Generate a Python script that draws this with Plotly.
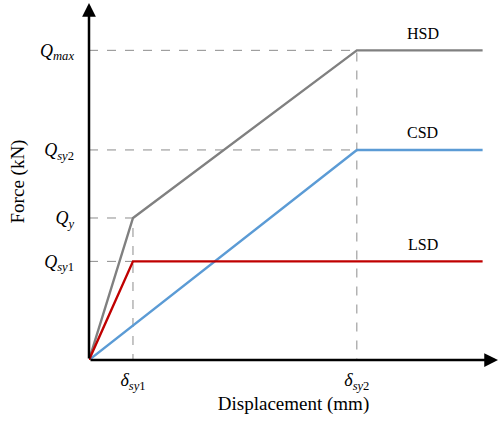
import plotly.graph_objects as go

# Key displacements (arbitrary units) and forces (arbitrary units)
d_sy1 = 1.0
d_sy2 = 6.09
d_end = 8.95
x_axis_max = 9.30

Q_sy1 = 1.0
Q_y = 1.44
Q_sy2 = 2.13
Q_max = 3.14
y_axis_max = 3.62

hsd_x = [0, d_sy1, d_sy2, d_end]
hsd_y = [0, Q_y, Q_max, Q_max]
csd_x = [0, d_sy2, d_end]
csd_y = [0, Q_sy2, Q_sy2]
lsd_x = [0, d_sy1, d_end]
lsd_y = [0, Q_sy1, Q_sy1]

ytick_vals = [Q_sy1, Q_y, Q_sy2, Q_max]
ytick_text = ["<i>Q</i><sub><i>sy</i>1</sub>", "<i>Q</i><sub><i>y</i></sub>",
              "<i>Q</i><sub><i>sy</i>2</sub>", "<i>Q</i><sub><i>max</i></sub>"]
xtick_vals = [d_sy1, d_sy2]
xtick_text = ["<i>δ</i><sub><i>sy</i>1</sub>", "<i>δ</i><sub><i>sy</i>2</sub>"]

series_names = ["HSD", "CSD", "LSD"]
series_colors = ["#808080", "#5B9BD5", "#C00000"]

FONT = "Liberation Serif, Times New Roman, serif"

fig = go.Figure()

# dashed guide lines
guide = dict(color="#8C8C8C", width=1, dash="dash")
fig.add_trace(go.Scatter(x=[0, d_sy2, d_sy2], y=[Q_max, Q_max, 0], mode="lines",
                         line=guide, hoverinfo="skip", showlegend=False))
fig.add_trace(go.Scatter(x=[0, d_sy2], y=[Q_sy2, Q_sy2], mode="lines",
                         line=guide, hoverinfo="skip", showlegend=False))
fig.add_trace(go.Scatter(x=[0, d_sy1, d_sy1], y=[Q_y, Q_y, 0], mode="lines",
                         line=guide, hoverinfo="skip", showlegend=False))
fig.add_trace(go.Scatter(x=[0, d_sy1], y=[Q_sy1, Q_sy1], mode="lines",
                         line=guide, hoverinfo="skip", showlegend=False))

for name, xs, ys, col in zip(series_names, [hsd_x, csd_x, lsd_x], [hsd_y, csd_y, lsd_y], series_colors):
    fig.add_trace(go.Scatter(x=xs, y=ys, mode="lines", name=name,
                             line=dict(color=col, width=2.4), showlegend=False))
    fig.add_annotation(x=(d_sy2 + d_end) / 2 + 0.07, y=ys[-1], text=name, showarrow=False,
                       yshift=17, font=dict(family=FONT, size=16, color="black"))

# axes with arrows
fig.add_annotation(x=x_axis_max, y=0, ax=0, ay=0, xref="x", yref="y", axref="x", ayref="y",
                   showarrow=True, arrowhead=2, arrowsize=1.1, arrowwidth=2.5, arrowcolor="black", text="")
fig.add_annotation(x=0, y=y_axis_max, ax=0, ay=0, xref="x", yref="y", axref="x", ayref="y",
                   showarrow=True, arrowhead=2, arrowsize=1.1, arrowwidth=2.5, arrowcolor="black", text="")

fig.update_layout(
    width=502, height=421,
    margin=dict(l=89, r=4, t=3, b=61),
    paper_bgcolor="white", plot_bgcolor="white",
    font=dict(family=FONT, size=16, color="black"),
    xaxis=dict(range=[0, x_axis_max], showgrid=False, zeroline=False, showline=False,
               tickvals=xtick_vals, ticktext=xtick_text, ticks="",
               tickfont=dict(family=FONT, size=18), ticklabelstandoff=7,
               title=dict(text="Displacement (mm)", font=dict(family=FONT, size=19), standoff=4)),
    yaxis=dict(range=[0, y_axis_max], showgrid=False, zeroline=False, showline=False,
               tickvals=ytick_vals, ticktext=ytick_text, ticks="",
               tickfont=dict(family=FONT, size=18), ticklabelstandoff=14,
               title=dict(text="Force (kN)", font=dict(family=FONT, size=19), standoff=10)),
)

fig.write_html("out.html")
